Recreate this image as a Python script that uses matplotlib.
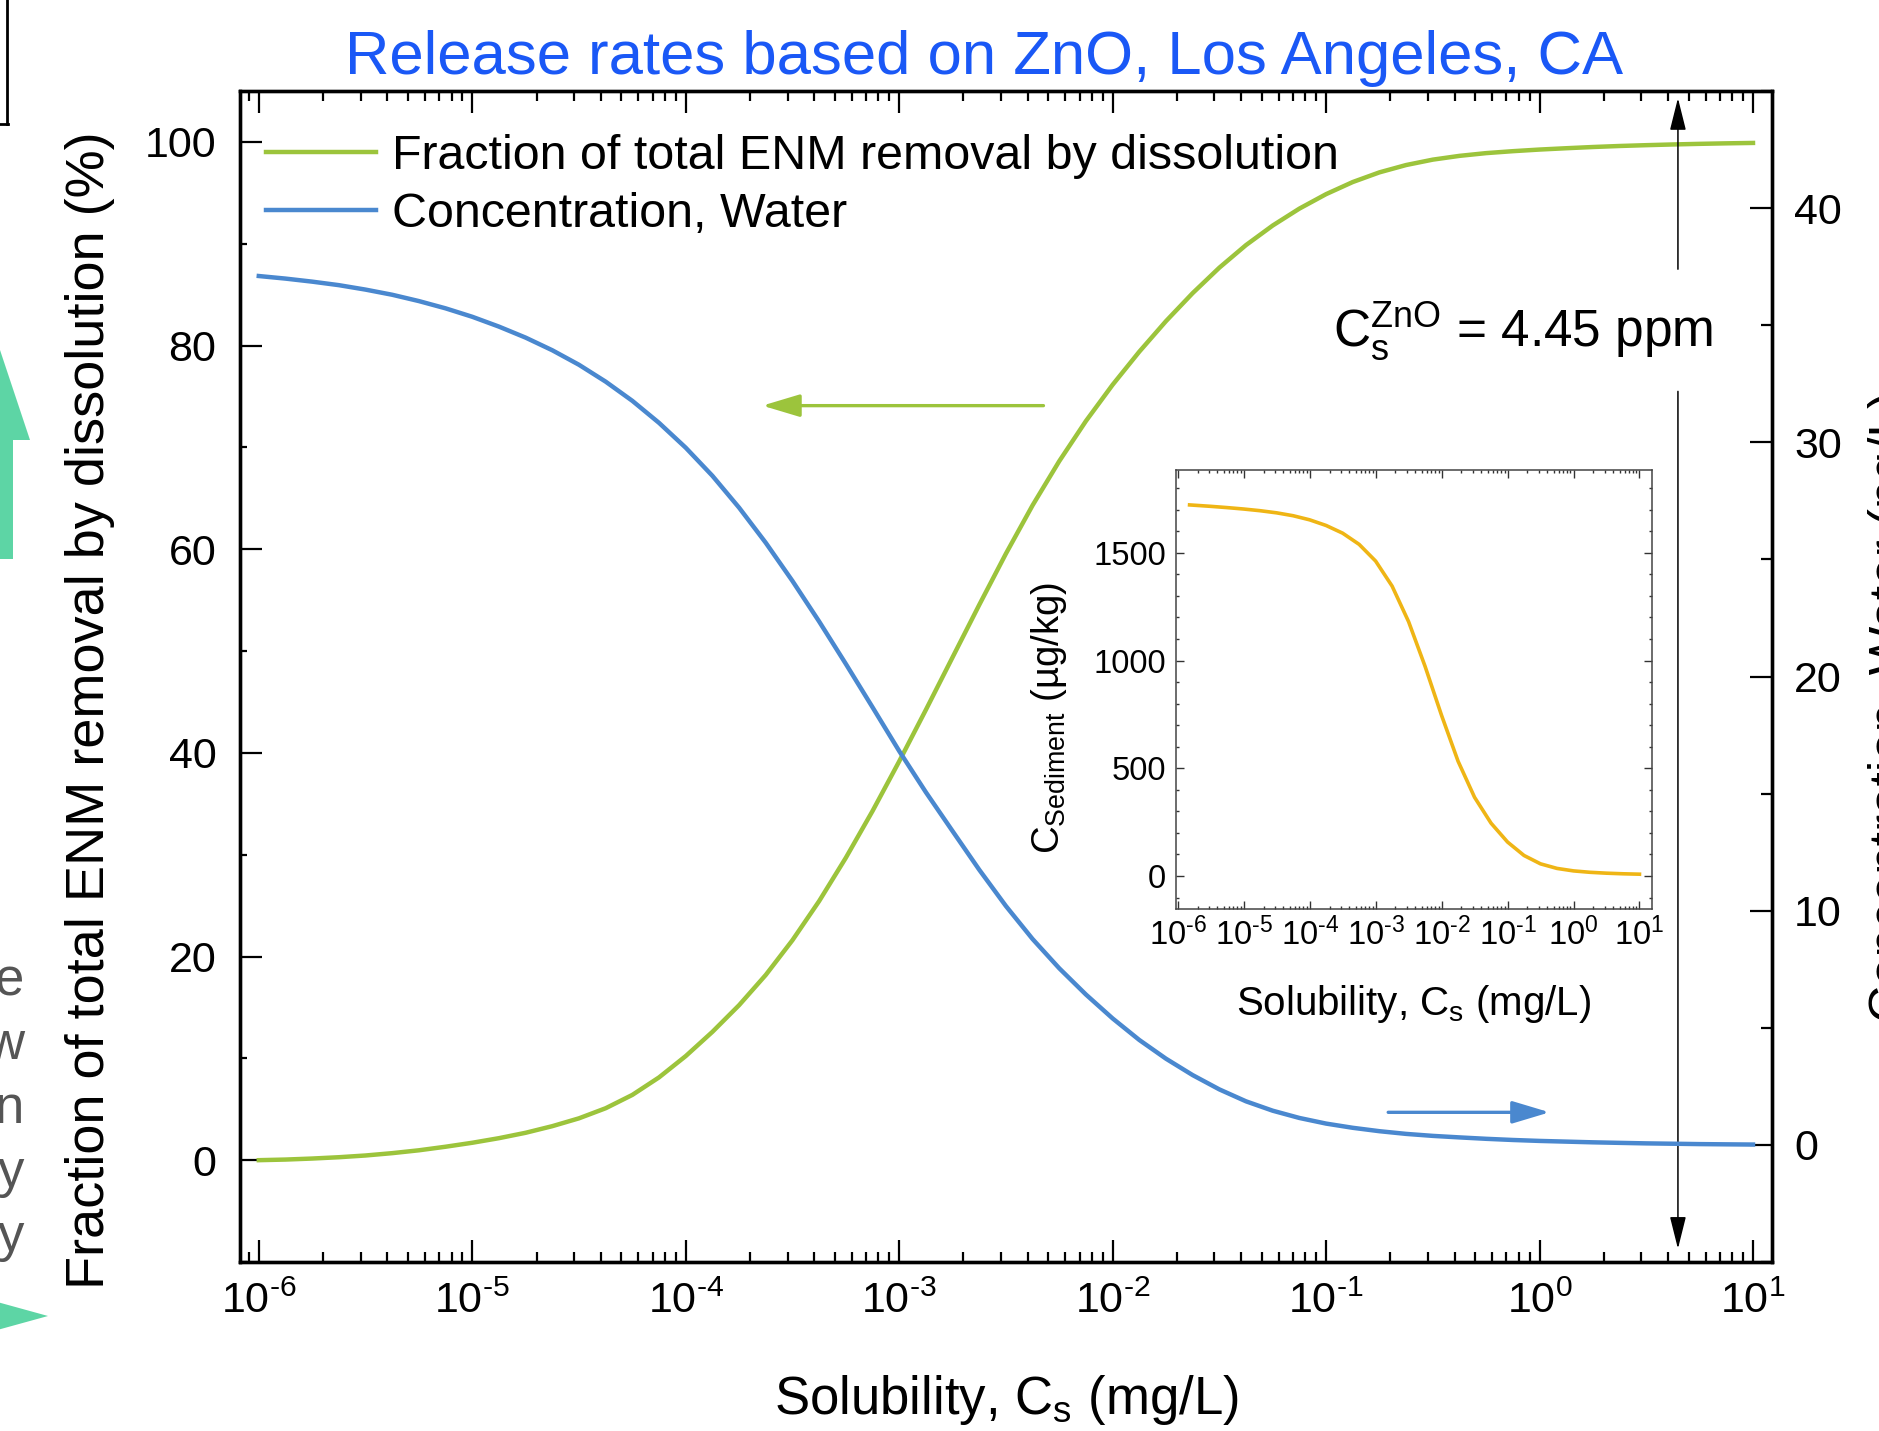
import numpy as np
import matplotlib
matplotlib.use("Agg")
import matplotlib.pyplot as plt
from matplotlib.ticker import MultipleLocator, LogLocator, NullFormatter
from matplotlib.lines import Line2D
from matplotlib.patches import Polygon

plt.rcParams['font.family'] = ['Liberation Sans', 'DejaVu Sans']
plt.rcParams['mathtext.fontset'] = 'custom'
plt.rcParams['mathtext.rm'] = 'Liberation Sans'
plt.rcParams['mathtext.it'] = 'Liberation Sans:italic'
plt.rcParams['mathtext.bf'] = 'Liberation Sans:bold'

# solubility grid, log10(mg/L), read every 1/8 decade
log_cs = [-6.0, -5.875, -5.75, -5.625, -5.5, -5.375, -5.25, -5.125,
          -5.0, -4.875, -4.75, -4.625, -4.5, -4.375, -4.25, -4.125,
          -4.0, -3.875, -3.75, -3.625, -3.5, -3.375, -3.25, -3.125,
          -3.0, -2.875, -2.75, -2.625, -2.5, -2.375, -2.25, -2.125,
          -2.0, -1.875, -1.75, -1.625, -1.5, -1.375, -1.25, -1.125,
          -1.0, -0.875, -0.75, -0.625, -0.5, -0.375, -0.25, -0.125,
          0.0, 0.125, 0.25, 0.375, 0.5, 0.625, 0.75, 0.875, 1.0]
# fraction of total ENM removal by dissolution (%)
fraction = [0.00, 0.06, 0.16, 0.29, 0.46, 0.69, 0.97, 1.32,
            1.71, 2.16, 2.69, 3.34, 4.11, 5.10, 6.41, 8.13,
            10.22, 12.60, 15.22, 18.19, 21.60, 25.44, 29.69, 34.28,
            39.16, 44.22, 49.38, 54.53, 59.56, 64.31, 68.65, 72.59,
            76.15, 79.40, 82.40, 85.15, 87.65, 89.87, 91.79, 93.45,
            94.87, 96.06, 97.01, 97.73, 98.26, 98.63, 98.90, 99.09,
            99.25, 99.38, 99.50, 99.60, 99.68, 99.75, 99.81, 99.86, 99.90]
# concentration in water (ng/L), right axis
water = [37.10, 36.99, 36.86, 36.71, 36.52, 36.30, 36.03, 35.72,
         35.36, 34.94, 34.47, 33.93, 33.31, 32.59, 31.77, 30.83,
         29.77, 28.57, 27.21, 25.71, 24.08, 22.35, 20.54, 18.69,
         16.82, 15.06, 13.40, 11.75, 10.20, 8.79, 7.54, 6.42,
         5.40, 4.48, 3.68, 2.98, 2.37, 1.86, 1.46, 1.15,
         0.91, 0.73, 0.585, 0.47, 0.385, 0.32, 0.26, 0.21,
         0.17, 0.14, 0.11, 0.087, 0.065, 0.05, 0.034, 0.024, 0.015]

# inset: sediment concentration (ug/kg)
log_cs_sed = [-5.82, -5.5, -5.25, -5.0, -4.75, -4.5, -4.25, -4.0, -3.75, -3.5,
              -3.25, -3.0, -2.75, -2.5, -2.25, -2.0, -1.75, -1.5, -1.25, -1.0,
              -0.75, -0.5, -0.25, 0.0, 0.25, 0.5, 0.75, 1.0]
sediment = [1722, 1715.4, 1709.5, 1702.9, 1695.1, 1685.2, 1671.8, 1652.8, 1626.5, 1590.9,
            1539.0, 1461.5, 1345.3, 1180.3, 972.8, 745.3, 532.8, 365.3, 245.3, 157.8,
            95.3, 56.5, 35.3, 23.8, 17.3, 13.2, 10.4, 8.5]

decades = [1e-6, 1e-5, 1e-4, 1e-3, 1e-2, 1e-1, 1e0, 1e1]
xtick_labels = [r'$\mathregular{10^{\text{-}6}}$', r'$\mathregular{10^{\text{-}5}}$',
                r'$\mathregular{10^{\text{-}4}}$', r'$\mathregular{10^{\text{-}3}}$',
                r'$\mathregular{10^{\text{-}2}}$', r'$\mathregular{10^{\text{-}1}}$',
                r'$\mathregular{10^{0}}$', r'$\mathregular{10^{1}}$']
left_ticks = [0, 20, 40, 60, 80, 100]
right_ticks = [0, 10, 20, 30, 40]
inset_yticks = [0, 500, 1000, 1500]
cs_zno = 4.45

GREEN = '#9CC43C'
BLUE = '#4A88CF'
GOLD = '#EFB515'
TITLE_BLUE = '#1A58F6'

W, H = 1879, 1431
def fx(px):
    return px / W
def fy(py):
    return 1 - py / H

fig = plt.figure(figsize=(W / 100, H / 100), dpi=100)

# leftovers of the neighbouring slide content, clipped at the edge
deco = fig.add_axes([0, 0, 1, 1])
deco.set_xlim(0, W)
deco.set_ylim(H, 0)
deco.axis('off')
deco.add_patch(Polygon([(-30, 440), (0, 350), (30, 440), (13, 440), (13, 559),
                        (-13, 559), (-13, 440)], closed=True, color='#5DD5A5', lw=0))
deco.add_patch(Polygon([(-10, 1300), (48, 1316), (-10, 1332)], closed=True, color='#5DD5A5', lw=0))
deco.plot([7, 7], [0, 124], color='k', lw=2)
deco.plot([0, 8], [124, 124], color='k', lw=2)
for ch, yb in zip(['e', 'w', 'n', 'y', 'y'], [995, 1059, 1123, 1187, 1251]):
    fig.text(fx(24), fy(yb), ch, ha='right', va='baseline', fontsize=38, color='#555555')

# main axes
ax = fig.add_axes([fx(240), fy(1262), (1772 - 240) / W, (1262 - 91) / H])
x_main = 10 ** np.array(log_cs)
ax.plot(x_main, fraction, color=GREEN, lw=3.2)
ax.set_xscale('log')
ax.set_xlim(10 ** -6.088, 10 ** 1.089)
ax.set_ylim(-10, 105)
ax.set_xticks(decades)
ax.set_xticklabels(xtick_labels)
ax.xaxis.set_minor_locator(LogLocator(base=10, subs=np.arange(2, 10), numticks=20))
ax.xaxis.set_minor_formatter(NullFormatter())
ax.set_yticks(left_ticks)
ax.yaxis.set_minor_locator(MultipleLocator(10))
ax.tick_params(which='both', direction='in', top=True, bottom=True, left=True, right=False, width=1.6)
ax.tick_params(which='major', length=16, labelsize=31)
ax.tick_params(axis='x', which='minor', length=7)
ax.tick_params(axis='y', which='minor', length=5)
ax.tick_params(axis='x', which='major', pad=14)
ax.tick_params(axis='y', which='major', pad=17)
for s in ax.spines.values():
    s.set_linewidth(2.4)

ax2 = ax.twinx()
ax2.plot(x_main, water, color=BLUE, lw=3.2)
ax2.set_ylim(-5, 45)
ax2.set_yticks(right_ticks)
ax2.yaxis.set_minor_locator(MultipleLocator(5))
ax2.tick_params(axis='y', which='both', direction='in', right=True, left=False, width=1.6)
ax2.tick_params(axis='y', which='major', length=16, labelsize=31, pad=16)
ax2.tick_params(axis='y', which='minor', length=8)
for s in ax2.spines.values():
    s.set_linewidth(2.4)

handles = [Line2D([], [], color=GREEN, lw=3.2), Line2D([], [], color=BLUE, lw=3.2)]
ax.legend(handles, ['Fraction of total ENM removal by dissolution', 'Concentration, Water'],
          loc='upper left', bbox_to_anchor=(0.017, 0.963), frameon=False, fontsize=34.8,
          handlelength=2.28, handletextpad=0.33, labelspacing=0.27, borderpad=0, borderaxespad=0)

# solubility marker for ZnO
arrow_k = dict(arrowstyle='-|>,head_length=1.0,head_width=0.25', color='k', lw=1.1,
               mutation_scale=20, shrinkA=0, shrinkB=0)
ax.annotate('', xy=(cs_zno, 104.3), xytext=(cs_zno, 87.5), arrowprops=arrow_k)
ax.annotate('', xy=(cs_zno, -8.7), xytext=(cs_zno, 75.5), arrowprops=arrow_k)
ax.text(10 ** -0.078, 79.85, r'$\mathregular{C_s^{ZnO}}$ = 4.45 ppm', ha='center', va='baseline', fontsize=37)

# axis pointers
ax.annotate('', xy=(10 ** -3.641, 74.1), xytext=(10 ** -2.324, 74.1),
            arrowprops=dict(arrowstyle='-|>,head_length=1.0,head_width=0.3', color=GREEN, lw=2.4,
                            mutation_scale=23, shrinkA=0, shrinkB=0))
ax.annotate('', xy=(10 ** 0.047, 4.7), xytext=(10 ** -0.709, 4.7),
            arrowprops=dict(arrowstyle='-|>,head_length=1.0,head_width=0.3', color=BLUE, lw=2.4,
                            mutation_scale=23, shrinkA=0, shrinkB=0))

# inset
ins = fig.add_axes([fx(1176), fy(909), (1652 - 1176) / W, (909 - 470) / H])
ins.plot(10 ** np.array(log_cs_sed), sediment, color=GOLD, lw=2.6)
ins.set_xscale('log')
ins.set_xlim(10 ** -6.026, 10 ** 1.19)
ins.set_ylim(-153, 1884)
ins.set_xticks(decades)
ins.set_xticklabels(xtick_labels)
ins.xaxis.set_minor_locator(LogLocator(base=10, subs=np.arange(2, 10), numticks=20))
ins.xaxis.set_minor_formatter(NullFormatter())
ins.set_yticks(inset_yticks)
ins.yaxis.set_minor_locator(MultipleLocator(100))
ins.tick_params(which='both', direction='in', top=True, bottom=True, left=True, right=True,
                width=1.0, color='#333333')
ins.tick_params(which='major', length=6, labelsize=23.5)
ins.tick_params(which='minor', length=2.5)
ins.tick_params(axis='x', which='major', pad=6)
ins.tick_params(axis='y', which='major', pad=7)
for s in ins.spines.values():
    s.set_linewidth(1.1)
    s.set_color('#444444')

fig.text(fx(1414), fy(1015), r'Solubility, $\mathregular{C_s}$ (mg/L)', ha='center', va='baseline', fontsize=29)
fig.text(fx(1049), fy(718), r'$\mathregular{C_{Sediment}}$ (µg/kg)', rotation=90,
         ha='center', va='center', fontsize=27.5)

# labels and title (right axis label is cut by the image edge, as in the source)
fig.text(fx(1006), fy(1414), r'Solubility, $\mathregular{C_s}$ (mg/L)', ha='center', va='baseline', fontsize=38)
fig.text(fx(90), fy(710), 'Fraction of total ENM removal by dissolution (%)', rotation=90,
         ha='center', va='center', fontsize=39)
fig.text(fx(1868), fy(706), 'Concentration, Water (ng/L)', rotation=90, ha='left', va='center', fontsize=37)
fig.text(fx(984), fy(74), 'Release rates based on ZnO, Los Angeles, CA', ha='center', va='baseline',
         fontsize=44.4, color=TITLE_BLUE)

fig.savefig('out.png', dpi=100)
